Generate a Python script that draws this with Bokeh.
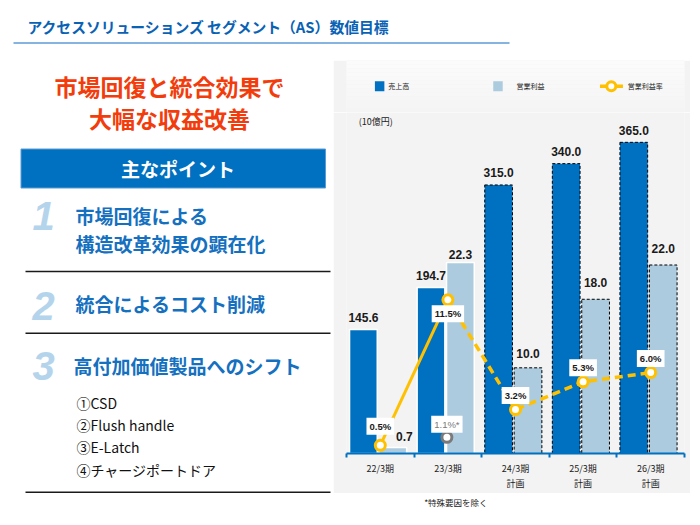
from bokeh.plotting import figure
from bokeh.layouts import column, row
from bokeh.models import Range1d, FixedTicker, Label, ColumnDataSource
from bokeh.core.properties import value
from bokeh.embed import file_html
from bokeh.resources import INLINE

# ---------------- data ----------------
categories = ["22/3期", "23/3期", "24/3期\n計画", "25/3期\n計画", "26/3期\n計画"]
sales = [145.6, 194.7, 315.0, 340.0, 365.0]          # 売上高 (10億円)
op_profit = [0.7, 22.3, 10.0, 18.0, 22.0]            # 営業利益 (10億円)
op_margin = [0.5, 11.5, 3.2, 5.3, 6.0]               # 営業利益率 (%)
planned = [False, False, True, True, True]
adj_margin = [1.1]                                   # 23/3期, 特殊要因を除く
adj_margin_cat = [1]
adj_margin_text = ["1.1%*"]

title_text = "アクセスソリューションズ セグメント（AS）数値目標"
headline = ["市場回復と統合効果で", "大幅な収益改善"]
points_header = "主なポイント"
point_nums = ["1", "2", "3"]
point_lines = ["市場回復による", "構造改革効果の顕在化", "統合によるコスト削減", "高付加価値製品へのシフト"]
products = ["①CSD", "②Flush handle", "③E-Latch", "④チャージポートドア"]
legend_labels = ["売上高", "営業利益", "営業利益率"]
unit_label = "(10億円)"
footnote = "*特殊要因を除く"

# ---------------- styles ----------------
JP = value("Noto Sans CJK JP")
LAT = value("Liberation Sans")
BLUE = "#0070c0"
LIGHT = "#adcbde"
GOLD = "#ffc000"
GRAY_BG = "#f3f3f3"
TEXT_BLUE = "#1570c0"
NUM_BLUE = "#b4d4ec"
RED = "#f23c0c"


def canvas(x0, x1, y0, y1, bg):
    f = figure(width=x1 - x0, height=y1 - y0, x_range=Range1d(x0, x1), y_range=Range1d(y1, y0),
               output_backend="svg", toolbar_location=None, min_border=0,
               x_axis_location=None, y_axis_location=None,
               background_fill_color=bg, border_fill_color=bg, outline_line_color=None)
    f.grid.visible = False
    return f


# ---------------- title ----------------
tf = canvas(0, 690, 0, 60, "white")
tf.text(x=[27], y=[26], text=[title_text], text_font=JP, text_font_size="14.8px",
        text_font_style="bold", text_color="#0a62b5", text_align="left", text_baseline="middle")
tf.line(x=[13, 509], y=[42.5, 42.5], line_color="#5b9bd5", line_width=1.5)

# ---------------- left panel ----------------
lf = canvas(0, 333, 60, 517, "white")
lf.text(x=[169, 169], y=[85, 117], text=headline, text_font=JP, text_font_size="23px",
        text_font_style="bold", text_color=RED, text_align="center", text_baseline="middle")
lf.quad(left=[20.5], right=[325], top=[148.5], bottom=[187.5], fill_color=BLUE,
        line_color="#5b9bd5", line_width=1)
lf.text(x=[177.5], y=[168], text=[points_header], text_font=JP, text_font_size="19px",
        text_font_style="bold", text_color="white", text_align="center", text_baseline="middle")
lf.text(x=[43, 43, 43], y=[215, 305, 365], text=point_nums, text_font=LAT, text_font_size="40px",
        text_font_style="bold italic", text_color=NUM_BLUE, text_align="center", text_baseline="middle")
lf.text(x=[75, 75, 75, 73], y=[215, 242.7, 303.3, 365], text=point_lines, text_font=JP,
        text_font_size="19px", text_font_style="bold", text_color=TEXT_BLUE,
        text_align="left", text_baseline="middle")
lf.text(x=[76] * 4, y=[402.3, 424, 446, 469.3], text=products, text_font=JP,
        text_font_size="14px", text_color="#111111", text_align="left", text_baseline="middle")
lf.multi_line(xs=[[25, 330]] * 3, ys=[[271, 271], [332.7, 332.7], [491.7, 491.7]],
              line_color="#1a1a1a", line_width=1.5)

# ---------------- legend strip ----------------
lg = canvas(333, 690, 60, 112, GRAY_BG)
n_b = 13
shades = []
for i in range(n_b):
    g = 0xfb - (i * 8) // n_b
    shades.append("#%02x%02x%02x" % (g, g, g))
lg.quad(left=[333] * n_b, right=[690] * n_b, top=[60 + i * 4 for i in range(n_b)],
        bottom=[64 + i * 4 for i in range(n_b)], fill_color=shades, line_color=None)
lg.rect(x=[368], y=[85.7], width=10, height=10, fill_color=BLUE, line_color=None)
lg.rect(x=[493], y=[85.7], width=10, height=10, fill_color=LIGHT, line_color=None)
lg.line(x=[600.7, 625], y=[85.7, 85.7], line_color=GOLD, line_width=3.5)
lg.scatter(x=[612.7], y=[85.7], size=9, fill_color="white", line_color=GOLD, line_width=3)
lg.text(x=[377, 512.5, 630], y=[85.7] * 3, text=legend_labels, text_font=JP, text_font_size="7px",
        text_color="#222222", text_align="left", text_baseline="middle")

# ---------------- chart ----------------
p = figure(width=357, height=381, x_range=Range1d(0, 5), y_range=Range1d(0, 400),
           output_backend="svg", toolbar_location=None, y_axis_location=None,
           min_border_left=13, min_border_right=6, min_border_top=0, min_border_bottom=37,
           background_fill_color=GRAY_BG, border_fill_color=GRAY_BG, outline_line_color=None)
p.extra_y_ranges = {"profit": Range1d(0, 39.8), "margin": Range1d(-0.12, 25.67)}
p.grid.visible = False

xs = [i + 0.5 for i in range(len(categories))]
sales_x = [x - 0.25 for x in xs]
profit_x = [x + 0.185 for x in xs]
act = [i for i, pl in enumerate(planned) if not pl]
pln = [i for i, pl in enumerate(planned) if pl]

p.vbar(x=[sales_x[i] for i in act], top=[sales[i] for i in act], width=0.41,
       fill_color=BLUE, line_color="white", line_width=1.5)
p.vbar(x=[sales_x[i] for i in pln], top=[sales[i] for i in pln], width=0.41,
       fill_color=BLUE, line_color="black", line_width=1, line_dash="3 2")
p.vbar(x=[profit_x[i] for i in act], top=[op_profit[i] for i in act], width=0.41,
       fill_color=LIGHT, line_color="white", line_width=1.5, y_range_name="profit")
p.vbar(x=[profit_x[i] for i in pln], top=[op_profit[i] for i in pln], width=0.41,
       fill_color=LIGHT, line_color="black", line_width=1, line_dash="3 2", y_range_name="profit")

p.line(x=xs[:2], y=op_margin[:2], line_color=GOLD, line_width=3, y_range_name="margin")
p.line(x=xs[1:], y=op_margin[1:], line_color=GOLD, line_width=3.5, line_dash="8 5",
       y_range_name="margin")
p.scatter(x=xs, y=op_margin, size=10, fill_color="white", line_color=GOLD, line_width=3,
          y_range_name="margin")
p.scatter(x=[xs[i] - 0.015 for i in adj_margin_cat], y=adj_margin, size=10, fill_color="white",
          line_color="#7a7a7a", line_width=3, y_range_name="margin")

# value labels
p.text(x=sales_x, y=sales, text=["%.1f" % v for v in sales], y_offset=-12,
       text_font=LAT, text_font_size="12px", text_font_style="bold", text_color="#1a1a1a",
       text_align="center", text_baseline="middle")
psrc = ColumnDataSource(dict(x=profit_x, y=op_profit, t=["%.1f" % v for v in op_profit],
                             xo=[11.5, 0, 0, 0, 0], yo=[-11, -8, -14, -17, -17]))
p.text(x="x", y="y", text="t", x_offset="xo", y_offset="yo", source=psrc, y_range_name="profit",
       text_font=LAT, text_font_size="12px", text_font_style="bold", text_color="#1a1a1a",
       text_align="center", text_baseline="middle")
msrc = ColumnDataSource(dict(x=xs, y=op_margin, t=["%.1f%%" % v for v in op_margin],
                             yo=[-19, 14, -14, -14, -14]))
p.text(x="x", y="y", text="t", y_offset="yo", source=msrc, y_range_name="margin",
       text_font=LAT, text_font_size="9.5px", text_font_style="bold", text_color="#1a1a1a",
       text_align="center", text_baseline="middle", background_fill_color="white", padding=3)
p.text(x=[xs[i] - 0.015 for i in adj_margin_cat], y=adj_margin, text=adj_margin_text, y_offset=-13,
       y_range_name="margin", text_font=LAT, text_font_size="9.5px", text_color="#7a7a7a",
       text_align="center", text_baseline="middle", background_fill_color="white", padding=3)

p.add_layout(Label(x=0.18, y=389.5, text=unit_label, text_font="Noto Sans CJK JP",
                   text_font_size="9px", text_color="#222222", text_align="left",
                   text_baseline="middle"))

ax = p.xaxis[0]
ax.ticker = FixedTicker(ticks=xs, minor_ticks=[0, 1, 2, 3, 4, 5])
ax.major_label_overrides = {x: c for x, c in zip(xs, categories)}
ax.axis_line_color = BLUE
ax.axis_line_width = 2
ax.major_tick_line_color = None
ax.major_tick_out = 0
ax.major_tick_in = 0
ax.minor_tick_line_color = BLUE
ax.minor_tick_line_width = 2
ax.minor_tick_out = 4
ax.minor_tick_in = 0
ax.major_label_standoff = 4
ax.major_label_text_font = "Noto Sans CJK JP"
ax.major_label_text_font_size = "9px"
ax.major_label_text_color = "#222222"

# ---------------- footnote ----------------
ff = canvas(333, 690, 493, 517, "white")
ff.text(x=[415], y=[501], text=[footnote], text_font=JP, text_font_size="8.5px",
        text_color="#222222", text_align="left", text_baseline="middle")

layout = column(tf, row(lf, column(lg, p, ff, spacing=0), spacing=0), spacing=0)

open("out.html", "w").write(file_html(layout, INLINE))
